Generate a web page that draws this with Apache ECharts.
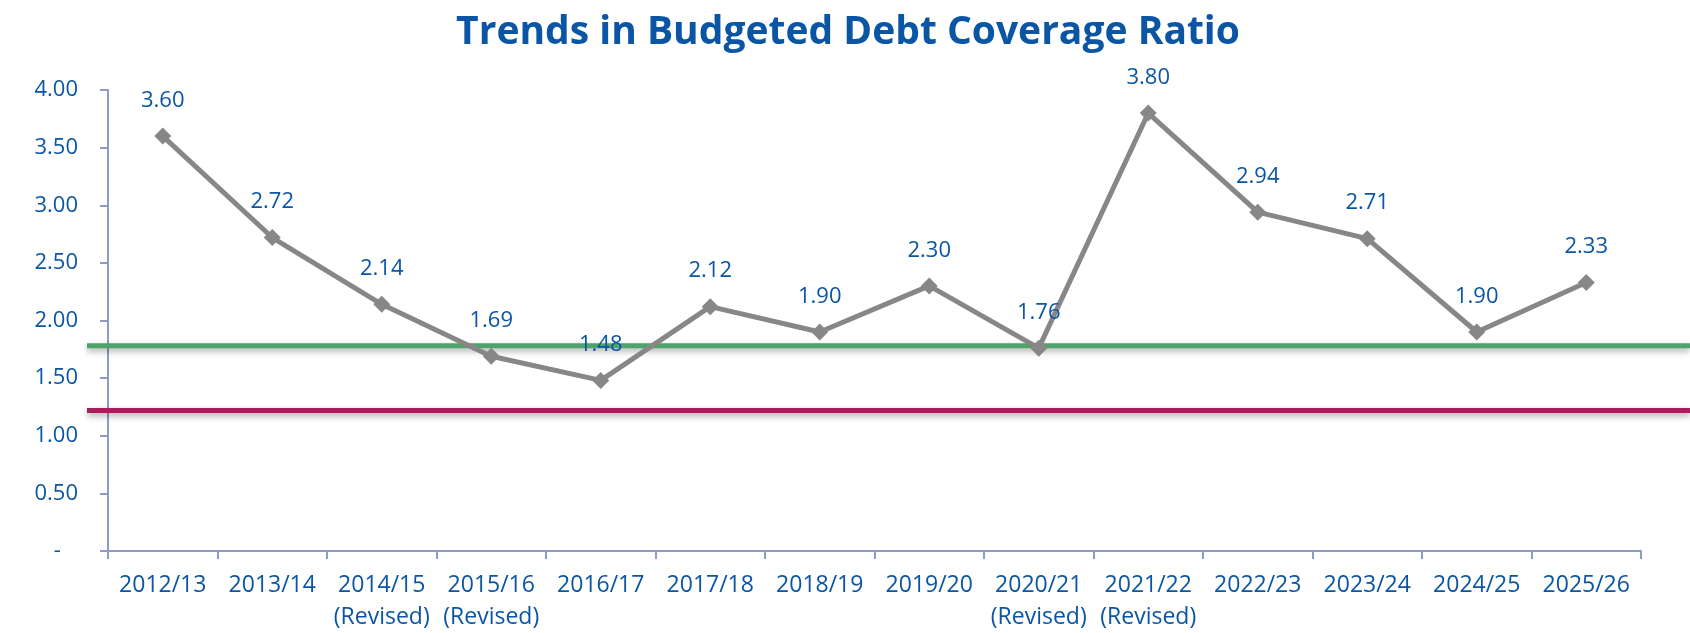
<!DOCTYPE html>
<html>
<head>
<meta charset="utf-8">
<title>Trends in Budgeted Debt Coverage Ratio</title>
<script src="https://cdn.jsdelivr.net/npm/echarts@6/dist/echarts.min.js"></script>
<style>
  html, body { margin: 0; padding: 0; background: #ffffff; }
  #chart { width: 1690px; height: 633px; }
</style>
</head>
<body>
<div id="chart"></div>
<script>
// Financial years on the category axis
const years = [
  '2012/13', '2013/14', '2014/15\n(Revised)', '2015/16\n(Revised)', '2016/17',
  '2017/18', '2018/19', '2019/20', '2020/21\n(Revised)', '2021/22\n(Revised)',
  '2022/23', '2023/24', '2024/25', '2025/26'
];
// Budgeted debt coverage ratio per year
const coverageRatio = [3.60, 2.72, 2.14, 1.69, 1.48, 2.12, 1.90, 2.30, 1.76, 3.80, 2.94, 2.71, 1.90, 2.33];
// Horizontal benchmark levels (upper green, lower red)
const benchmarkUpper = [1.78, 1.78];
const benchmarkLower = [1.22, 1.22];
// Value axis range
const yTicks = { min: 0, max: 4, step: 0.5 };

const blue = '#0B56A4';
const axisColor = '#8F9BC6';
const font = '"Open Sans", "Noto Sans", sans-serif';

const chart = echarts.init(document.getElementById('chart'), null, { renderer: 'canvas' });

const gridBox = { top: 90, bottom: 82 };

chart.setOption({
  animation: false,
  backgroundColor: '#ffffff',
  title: {
    text: 'Trends in Budgeted Debt Coverage Ratio',
    left: 843,
    textAlign: 'center',
    top: 8,
    textStyle: { color: blue, fontFamily: font, fontWeight: 'bold', fontSize: 39 }
  },
  grid: [
    { left: 108, right: 49, top: gridBox.top, bottom: gridBox.bottom },
    { left: 87, right: 0, top: gridBox.top, bottom: gridBox.bottom }
  ],
  xAxis: [
    {
      type: 'category',
      gridIndex: 0,
      data: years,
      boundaryGap: true,
      axisLine: { lineStyle: { color: axisColor, width: 2 } },
      axisTick: { show: true, length: 8, alignWithLabel: false, lineStyle: { color: axisColor, width: 2 } },
      axisLabel: {
        color: blue, fontFamily: font, fontSize: 23, margin: 18, lineHeight: 32, interval: 0
      },
      splitLine: { show: false }
    },
    { type: 'value', gridIndex: 1, min: 0, max: 1, show: false }
  ],
  yAxis: [
    {
      type: 'value',
      gridIndex: 0,
      min: yTicks.min,
      max: yTicks.max,
      interval: yTicks.step,
      axisLine: { show: true, lineStyle: { color: axisColor, width: 2 } },
      axisTick: { show: true, length: 8, lineStyle: { color: axisColor, width: 2 } },
      splitLine: { show: false },
      axisLabel: {
        color: blue, fontFamily: font, fontSize: 22, margin: 30,
        formatter: v => (v === 0 ? '-   ' : v.toFixed(2))
      }
    },
    { type: 'value', gridIndex: 1, min: yTicks.min, max: yTicks.max, show: false }
  ],
  series: [
    {
      name: 'Upper benchmark',
      type: 'line',
      xAxisIndex: 1, yAxisIndex: 1,
      data: benchmarkUpper.map((v, i) => [i, v]),
      symbol: 'none',
      silent: true,
      lineStyle: {
        color: '#4EA36A', width: 5,
        shadowColor: 'rgba(0,0,0,0.35)', shadowBlur: 6, shadowOffsetY: 3
      },
      z: 1
    },
    {
      name: 'Lower benchmark',
      type: 'line',
      xAxisIndex: 1, yAxisIndex: 1,
      data: benchmarkLower.map((v, i) => [i, v]),
      symbol: 'none',
      silent: true,
      lineStyle: {
        color: '#A3215A', width: 5,
        shadowColor: 'rgba(0,0,0,0.35)', shadowBlur: 6, shadowOffsetY: 3
      },
      z: 1
    },
    {
      name: 'Debt Coverage Ratio',
      type: 'line',
      xAxisIndex: 0, yAxisIndex: 0,
      data: coverageRatio,
      symbol: 'diamond',
      symbolSize: 17,
      itemStyle: { color: '#878787' },
      lineStyle: { color: '#878787', width: 5 },
      label: {
        show: true,
        position: 'top',
        distance: 16,
        color: blue,
        fontFamily: font,
        fontSize: 22,
        formatter: p => p.value.toFixed(2)
      },
      z: 3
    }
  ]
});
</script>
</body>
</html>
